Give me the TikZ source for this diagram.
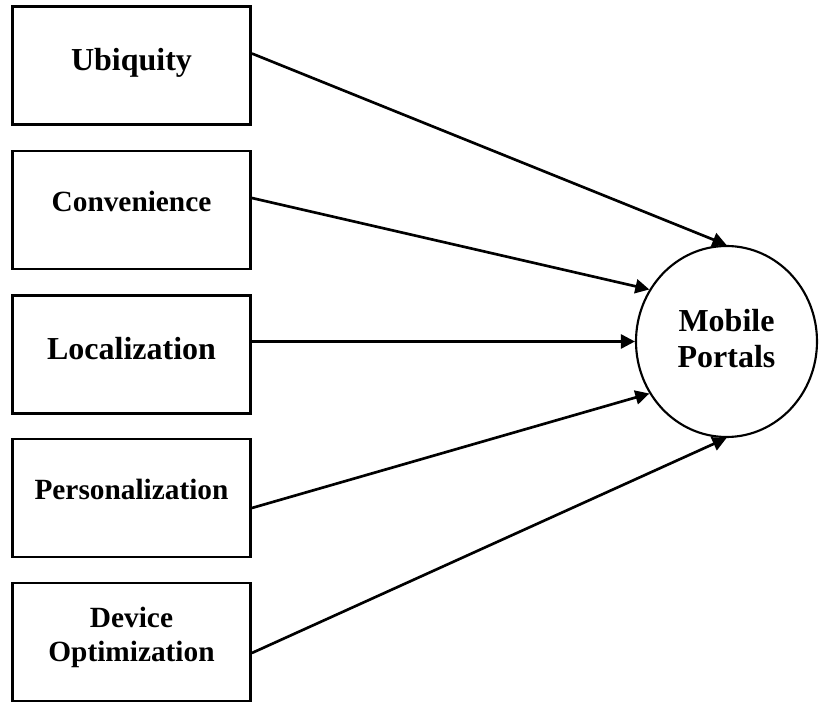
\documentclass[tikz,border=0pt]{standalone}
\usepackage{fontspec}
\setmainfont{Liberation Serif}
\usetikzlibrary{arrows.meta}
\usetikzlibrary{shapes.geometric}

\begin{document}
\begin{tikzpicture}[x=0.75pt,y=0.75pt,yscale=-1,xscale=1,
    factorbox/.style={draw,line width=2.1pt,rectangle,minimum width=178.5pt,minimum height=88.5pt,inner sep=0pt,align=center,font=\fontsize{22}{25.5}\selectfont\bfseries},
    bigtext/.style={font=\fontsize{24}{27}\selectfont\bfseries,text height=16pt,text depth=8pt},
    smalltext/.style={text height=15pt,text depth=12pt},
    portal/.style={draw,line width=1.6pt,ellipse,minimum width=135.75pt,minimum height=143.25pt,inner sep=0pt,align=center,text depth=4.5pt,font=\fontsize{24}{26.5}\selectfont\bfseries},
    link/.style={line width=2pt,-{Triangle[length=10.5pt,width=10.5pt]}}]
%set diagram left start at 0, and has height of 702
\useasboundingbox (0,0) rectangle (819,702);

%Shape: Rectangle [id:ubiquity]
\node [factorbox,bigtext] (ubiq) at (131.5,65.5) {Ubiquity};
%Shape: Rectangle [id:convenience]
\node [factorbox,smalltext] (conv) at (131.5,210) {Convenience};
%Shape: Rectangle [id:localization]
\node [factorbox,bigtext] (local) at (131.5,354.5) {Localization};
%Shape: Rectangle [id:personalization]
\node [factorbox,smalltext] (pers) at (131.5,498) {Personalization};
%Shape: Rectangle [id:device]
\node [factorbox,text depth=12pt] (device) at (131.5,642) {Device\\Optimization};
%Shape: Ellipse [id:portals]
\node [portal] (portals) at (726.5,341.5) {Mobile\\Portals};

%Straight Lines [id:arrows]
\draw [link] ([yshift=-9pt]ubiq.east) -- (portals.90);
\draw [link] ([yshift=-9pt]conv.east) -- (portals.146);
\draw [link] ([yshift=-9.75pt]local.east) -- (portals.180);
\draw [link] ([yshift=7.5pt]pers.east) -- (portals.214);
\draw [link] ([yshift=8.25pt]device.east) -- (portals.270);

\end{tikzpicture}
\end{document}
